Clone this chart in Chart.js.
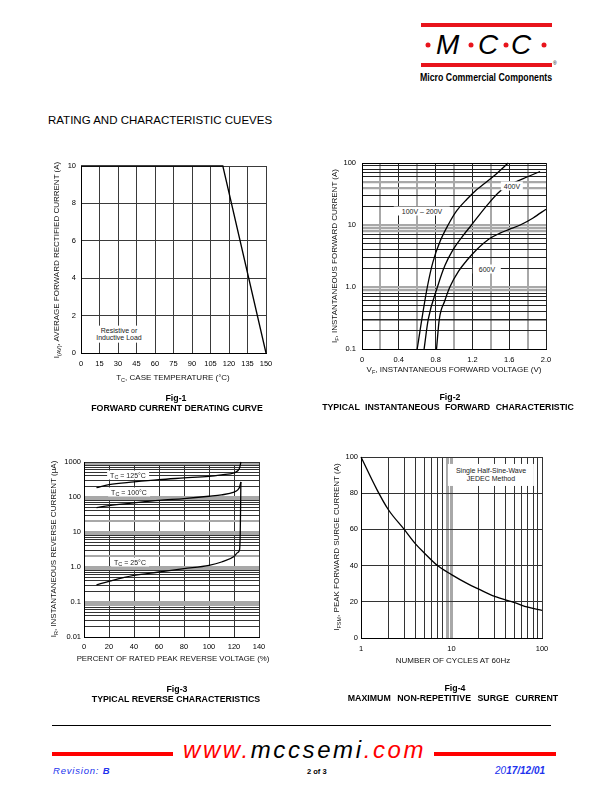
<!DOCTYPE html>
<html><head><meta charset="utf-8">
<title>Rating and Characteristic Curves</title>
<script src="https://cdn.jsdelivr.net/npm/chart.js@4.4.1/dist/chart.umd.min.js"></script>
<style>
html,body{margin:0;padding:0;background:#fff;}
#page{position:relative;width:612px;height:792px;overflow:hidden;font-family:"Liberation Sans",Arial,Helvetica,sans-serif;color:#000;}
.t{position:absolute;white-space:nowrap;line-height:1;}
.c{transform:translate(-50%,-50%);}
.v{transform:translate(-50%,-50%) rotate(-90deg);}
.ax{font-size:8px;color:#111;}
.cap{font-size:8.8px;font-weight:bold;}
.fig{font-size:8.8px;font-weight:bold;}
.lbl{font-size:7px;background:#fff;padding:1px 3px;color:#222;}
sub{font-size:5.5px;vertical-align:-1.5px;line-height:0;}
canvas{position:absolute;}
.bar{position:absolute;background:#e8141c;}
.dot{position:absolute;width:5px;height:5px;border-radius:50%;background:#e8141c;transform:translate(-50%,-50%);}
.logo{position:absolute;font-style:italic;font-size:28px;line-height:1;}
.blue{color:#2233ee;font-style:italic;}
</style></head><body><div id="page">

<!-- header logo -->
<div class="bar" style="left:421px;top:23px;width:131px;height:4px;"></div>
<div class="bar" style="left:421px;top:63px;width:131px;height:4px;"></div>
<div class="dot" style="left:428px;top:45px;"></div>
<div class="dot" style="left:471px;top:45px;"></div>
<div class="dot" style="left:506px;top:45px;"></div>
<div class="dot" style="left:544px;top:45px;"></div>
<div class="logo" style="left:436px;top:31px;">M</div>
<div class="logo" style="left:478px;top:31px;">C</div>
<div class="logo" style="left:511px;top:31px;">C</div>
<div class="t" style="left:553px;top:61px;font-size:5px;">®</div>
<div class="t" id="mcc" style="left:420px;top:72px;font-size:10.5px;font-weight:bold;transform-origin:0 0;">Micro Commercial Components</div>

<div class="t" style="left:48px;top:115px;font-size:11.5px;">RATING AND CHARACTERISTIC CUEVES</div>

<canvas id="fig1"></canvas>
<canvas id="fig2"></canvas>
<canvas id="fig3"></canvas>
<canvas id="fig4"></canvas>

<!-- Fig 1 text -->
<div class="t v ax" style="left:57px;top:260px;">I<sub>(AV)</sub>, AVERAGE FORWARD RECTIFIED CURRENT (A)</div>
<div class="t c ax" style="left:173px;top:378px;">T<sub>C</sub>, CASE TEMPERATURE (°C)</div>
<div class="t c lbl" style="left:119px;top:334px;text-align:center;line-height:1.05;padding:1px 2px;">Resistive or<br>Inductive Load</div>
<div class="t c fig" style="left:176px;top:398px;">Fig-1</div>
<div class="t c cap" style="left:177px;top:408px;">FORWARD CURRENT DERATING CURVE</div>

<!-- Fig 2 text -->
<div class="t v ax" style="left:335px;top:256px;">I<sub>F</sub>, INSTANTANEOUS FORWARD CURRENT (A)</div>
<div class="t c ax" style="left:454px;top:370px;">V<sub>F</sub>, INSTANTANEOUS FORWARD VOLTAGE (V)</div>
<div class="t c lbl" style="left:422px;top:211px;padding:1px 8px;">100V – 200V</div>
<div class="t c lbl" style="left:512px;top:186px;">400V</div>
<div class="t c lbl" style="left:487px;top:269px;padding:1px 6px;">600V</div>
<div class="t c fig" style="left:450px;top:397px;">Fig-2</div>
<div class="t c cap" style="left:448px;top:407px;word-spacing:3px;">TYPICAL INSTANTANEOUS FORWARD CHARACTERISTIC</div>

<!-- Fig 3 text -->
<div class="t v ax" style="left:54px;top:549px;">I<sub>R</sub>, INSTANTANEOUS REVERSE CURRENT (µA)</div>
<div class="t c ax" style="left:173px;top:659px;font-size:7.8px;">PERCENT OF RATED PEAK REVERSE VOLTAGE (%)</div>
<div class="t c lbl" style="left:128px;top:475px;">T<sub>C</sub> = 125°C</div>
<div class="t c lbl" style="left:129px;top:492px;">T<sub>C</sub> = 100°C</div>
<div class="t c lbl" style="left:130px;top:562px;">T<sub>C</sub> = 25°C</div>
<div class="t c fig" style="left:177px;top:689px;">Fig-3</div>
<div class="t c cap" style="left:176px;top:699px;">TYPICAL REVERSE CHARACTERISTICS</div>

<!-- Fig 4 text -->
<div class="t v ax" style="left:337px;top:547px;">I<sub>FSM</sub>, PEAK FORWARD SURGE CURRENT (A)</div>
<div class="t c ax" style="left:453px;top:661px;">NUMBER OF CYCLES AT 60Hz</div>
<div class="t c lbl" style="left:491px;top:475px;text-align:center;line-height:1.15;padding:3px 8px;">Single Half-Sine-Wave<br>JEDEC Method</div>
<div class="t c fig" style="left:455px;top:688px;">Fig-4</div>
<div class="t c cap" style="left:453px;top:698px;word-spacing:4px;">MAXIMUM NON-REPETITIVE SURGE CURRENT</div>

<!-- footer -->
<div style="position:absolute;left:52px;top:725px;width:499px;height:1px;background:#000;"></div>
<div class="bar" style="left:52px;top:752px;width:121px;height:4px;background:#f00;"></div>
<div class="bar" style="left:434px;top:752px;width:122px;height:4px;background:#f00;"></div>
<div class="t" style="left:183px;top:738px;font-size:24px;font-style:italic;letter-spacing:2.6px;"><span style="color:#f00">www.</span>mccsemi<span style="color:#f00">.com</span></div>
<div class="t blue" style="left:53px;top:766px;font-size:9.5px;letter-spacing:0.8px;">Revision: <b>B</b></div>
<div class="t" style="left:307px;top:768px;font-size:7.5px;font-weight:bold;">2 of 3</div>
<div class="t blue" style="left:495px;top:766px;font-size:10px;">20<b>17/12/01</b></div>

</div>
<script>
// ---------------- DATA ----------------
// Fig-1 forward current derating
const fig1CaseTemp = [0, 115, 150];
const fig1AvgCurrent = [10, 10, 0];
const fig1XTicks = [0, 15, 30, 45, 60, 75, 90, 105, 120, 135, 150];
const fig1YTicks = [0, 2, 4, 6, 8, 10];

// Fig-2 forward characteristic (V, A)
const fig2XTicks = [0, 0.2, 0.4, 0.6, 0.8, 1.0, 1.2, 1.4, 1.6, 1.8, 2.0];
const fig2XLabels = ['0', '', '0.4', '', '0.8', '', '1.2', '', '1.6', '', '2.0'];
const fig2YLabelValues = [0.1, 1, 10, 100];
const fig2YLabels = ['0.1', '1.0', '10', '100'];
const vf_100_200 = [0.60, 0.65, 0.71, 0.77, 0.85, 0.936, 1.03, 1.14, 1.245, 1.43, 1.59];
const if_100_200 = [0.1, 0.3, 1, 2.5, 5.5, 10, 17, 26, 37, 61, 100];
const vf_400 = [0.675, 0.72, 0.82, 0.90, 0.99, 1.09, 1.19, 1.35, 1.50, 1.65, 1.80, 1.935];
const if_400 = [0.1, 0.3, 1, 2.2, 4, 6.5, 10, 20, 35, 48, 60, 73];
const vf_600 = [0.81, 0.84, 0.90, 0.955, 1.05, 1.15, 1.245, 1.37, 1.50, 1.60, 1.72, 1.86, 2.0];
const if_600 = [0.1, 0.3, 0.6, 1, 1.8, 2.8, 4, 5.8, 7.4, 8.5, 10, 13, 18];

// Fig-3 reverse characteristics (%, uA)
const fig3XTicks = [0, 20, 40, 60, 80, 100, 120, 140];
const fig3YLabelValues = [0.01, 0.1, 1, 10, 100, 1000];
const fig3YLabels = ['0.01', '0.1', '1.0', '10', '100', '1000'];
const pct_125 = [10, 20, 40, 60, 80, 100, 110, 120, 123, 124.5, 125.5];
const ir_125 = [185, 226, 270, 314, 350, 390, 430, 485, 560, 680, 1000];
const pct_100 = [10, 20, 40, 60, 80, 100, 110, 120, 123, 124.5, 125.5];
const ir_100 = [50, 57, 68, 80, 90, 105, 115, 138, 160, 194, 270];
const pct_25 = [10, 20, 40, 60, 80, 100, 110, 120, 123, 124.5, 125, 125.3, 125.5];
const ir_25 = [0.31, 0.39, 0.575, 0.72, 0.9, 1.12, 1.39, 2.0, 2.6, 3.2, 10, 60, 270];

// Fig-4 surge current
const fig4XLabelValues = [1, 10, 100];
const fig4XLabels = ['1', '10', '100'];
const fig4YTicks = [0, 20, 40, 60, 80, 100];
const cycles = [1, 1.5, 2, 3, 4, 5, 7, 10, 15, 20, 30, 50, 70, 100];
const surgeAmps = [100, 82, 71, 60, 52, 47, 40, 35, 30, 27, 23, 19.5, 17, 15.3];

// ---------------- HELPERS ----------------
const FONT = "'Liberation Sans', Arial, sans-serif";
const pts = (xs, ys) => xs.map((x, i) => ({x: x, y: ys[i]}));
function logGrid(lo, hi) { // 1..9 x decades
  const out = [];
  for (let d = lo; d < hi; d *= 10) for (let k = 1; k < 10; k++) out.push(+(k * d).toPrecision(3));
  out.push(hi);
  return out;
}
const near = (a, b) => Math.abs(a - b) <= Math.abs(b) * 1e-6 + 1e-12;
function lblFrom(values, labels) {
  return v => { const i = values.findIndex(w => near(v, w)); return i >= 0 ? labels[i] : ''; };
}
function line(data, smooth) {
  return {data: data, borderColor: '#000', borderWidth: 1.3, pointRadius: 0, fill: false, clip: 3,
    cubicInterpolationMode: smooth ? 'monotone' : 'default', tension: 0};
}
function scale(type, min, max, tickVals, labelFn, pad, gridColor, gridWidth) {
  return {
    type: type, min: min, max: max,
    afterBuildTicks: s => { s.ticks = tickVals.map(v => ({value: v})); },
    ticks: {autoSkip: false, maxRotation: 0, padding: pad, color: '#000',
      font: {family: FONT, size: 7.5}, callback: v => labelFn(v)},
    grid: {drawTicks: false, color: gridColor, lineWidth: gridWidth},
    border: {display: true, color: '#000', width: 1}
  };
}
function makeChart(id, box, datasets, xOpt, yOpt) {
  const padL = 40, padT = 12, padR = 24, padB = 22;
  const cv = document.getElementById(id);
  const W = box.r - box.l + padL + padR, H = box.b - box.t + padT + padB;
  cv.width = W; cv.height = H;
  cv.style.left = (box.l - padL) + 'px'; cv.style.top = (box.t - padT) + 'px';
  cv.style.width = W + 'px'; cv.style.height = H + 'px';
  xOpt.afterFit = s => { s.height = padB; };
  yOpt.afterFit = s => { s.width = padL; };
  return new Chart(cv, {
    type: 'line', data: {datasets: datasets},
    options: {
      responsive: false, animation: false, devicePixelRatio: 1,
      layout: {padding: {left: 0, top: padT, right: padR, bottom: 0}},
      plugins: {legend: {display: false}, tooltip: {enabled: false}},
      scales: {x: xOpt, y: yOpt}
    }
  });
}
const isIn = (v, arr) => arr.some(w => near(v, w));

// ---------------- FIG 1 ----------------
makeChart('fig1', {l: 81, t: 166, r: 266, b: 353},
  [line(pts(fig1CaseTemp, fig1AvgCurrent), false)],
  scale('linear', 0, 150, fig1XTicks, v => String(v), 6, '#3a3a3a', 1),
  scale('linear', 0, 10, fig1YTicks, v => String(v), 5, '#3a3a3a', 1));

// ---------------- FIG 2 ----------------
const fig2Gray = [0.9, 1, 8, 9, 10, 40, 50];
const fig2XGray = [0.2, 0.6, 1.0, 1.4, 1.8];
makeChart('fig2', {l: 362, t: 163, r: 546, b: 349},
  [line(pts(vf_100_200, if_100_200), true), line(pts(vf_400, if_400), true), line(pts(vf_600, if_600), true)],
  scale('linear', 0, 2, fig2XTicks, lblFrom(fig2XTicks, fig2XLabels), 6,
    c => isIn(c.tick.value, fig2XGray) ? '#a8a8a8' : '#222',
    c => isIn(c.tick.value, fig2XGray) ? 2 : 1),
  scale('logarithmic', 0.1, 100, logGrid(0.1, 100), lblFrom(fig2YLabelValues, fig2YLabels), 6,
    c => (c.tick.value === 100) ? '#000' : (isIn(c.tick.value, fig2Gray) ? '#a8a8a8' : '#222'),
    c => isIn(c.tick.value, fig2Gray) && c.tick.value !== 100 ? 2.2 : (near(c.tick.value, 0.3) ? 1.6 : 1)));

// ---------------- FIG 3 ----------------
const fig3Gray = [0.08, 0.09, 0.1, 0.9, 1, 2, 9, 10, 20, 90, 100, 900];
makeChart('fig3', {l: 84, t: 462, r: 259, b: 637},
  [line(pts(pct_125, ir_125), true), line(pts(pct_100, ir_100), true), line(pts(pct_25, ir_25), true)],
  scale('linear', 0, 140, fig3XTicks, v => String(v), 5, '#333', 1),
  scale('logarithmic', 0.01, 1000, logGrid(0.01, 1000), lblFrom(fig3YLabelValues, fig3YLabels), 3,
    c => isIn(c.tick.value, fig3Gray) ? '#a8a8a8' : '#333',
    c => isIn(c.tick.value, fig3Gray) ? 2 : 1));

// ---------------- FIG 4 ----------------
const fig4Gray = [9, 10];
makeChart('fig4', {l: 361, t: 457, r: 542, b: 638},
  [line(pts(cycles, surgeAmps), true)],
  scale('logarithmic', 1, 100, logGrid(1, 100), lblFrom(fig4XLabelValues, fig4XLabels), 6,
    c => isIn(c.tick.value, fig4Gray) ? '#a8a8a8' : '#333',
    c => isIn(c.tick.value, fig4Gray) ? 3 : 1),
  scale('linear', 0, 100, fig4YTicks, v => String(v), 3, '#333', 1));

// fit logo subtitle width
const mcc = document.getElementById('mcc');
mcc.style.transform = 'scaleX(' + (132 / mcc.offsetWidth) + ')';
</script>
</body></html>
